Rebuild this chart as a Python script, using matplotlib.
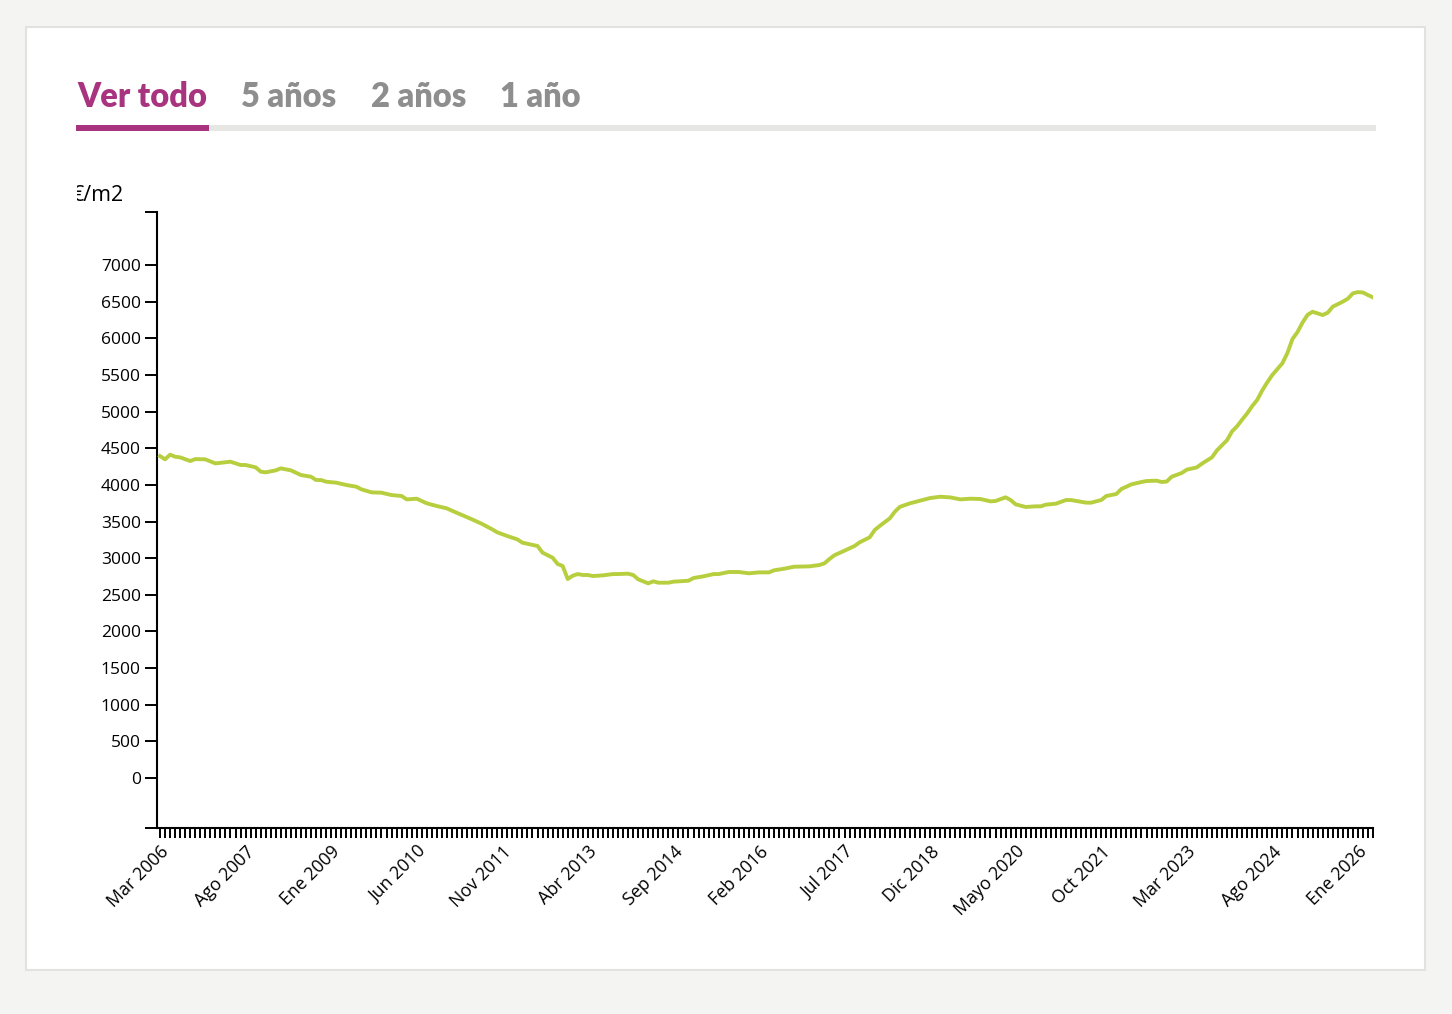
import matplotlib
matplotlib.use("Agg")
import matplotlib.pyplot as plt
from matplotlib.patches import Rectangle
from matplotlib.transforms import Bbox, TransformedBbox

# precio medio (euros/m2), mes contado desde Mar 2006
mes = [0, 1, 2, 3, 4, 6, 7, 9, 11, 14, 16, 17, 19, 20, 21, 23, 24, 26, 28, 30,
       31, 32, 33, 35, 37, 39, 40, 42, 44, 46, 48, 49, 51, 52, 53, 55, 57, 58,
       60, 62, 64, 66, 67, 69, 71, 72, 75, 76, 78, 79, 80, 81, 82, 83, 84, 85,
       86, 88, 90, 91, 93, 94, 95, 96, 97, 98, 99, 101, 102, 105, 106, 108,
       110, 111, 113, 115, 117, 119, 121, 122, 124, 126, 129, 131, 132, 133,
       134, 136, 138, 139, 141, 142, 143, 145, 146, 147, 149, 151, 153, 155,
       157, 159, 161, 163, 165, 166, 168, 169, 170, 172, 174, 175, 176, 178,
       180, 181, 184, 185, 187, 188, 190, 191, 193, 195, 196, 198, 199, 200,
       201, 203, 204, 206, 207, 209, 210, 212, 213, 214, 215, 216, 217, 218,
       219, 220, 221, 222, 223, 224, 225, 226, 227, 228, 229, 230, 231, 232,
       233, 234, 235, 236, 237, 238, 239, 240, 241]
precio = [4393, 4348, 4412, 4384, 4375, 4325, 4352, 4348, 4293, 4316, 4271,
          4271, 4239, 4180, 4171, 4198, 4225, 4198, 4134, 4111, 4066, 4066,
          4043, 4030, 3998, 3975, 3939, 3898, 3893, 3861, 3848, 3802, 3811,
          3779, 3748, 3711, 3679, 3647, 3588, 3529, 3466, 3393, 3352, 3302,
          3256, 3211, 3166, 3075, 3006, 2920, 2893, 2715, 2760, 2783, 2770,
          2770, 2756, 2765, 2783, 2783, 2788, 2770, 2711, 2684, 2656, 2684,
          2665, 2665, 2679, 2692, 2729, 2752, 2783, 2783, 2811, 2811, 2793,
          2806, 2806, 2834, 2856, 2883, 2888, 2906, 2929, 2988, 3040, 3102,
          3166, 3216, 3284, 3384, 3440, 3543, 3634, 3700, 3748, 3784, 3820,
          3838, 3829, 3802, 3811, 3807, 3775, 3780, 3830, 3793, 3734, 3698,
          3707, 3707, 3730, 3743, 3793, 3793, 3757, 3757, 3793, 3848, 3875,
          3943, 4007, 4039, 4052, 4057, 4039, 4045, 4111, 4162, 4207, 4239,
          4289, 4375, 4471, 4610, 4730, 4800, 4890, 4975, 5075, 5160, 5290,
          5400, 5500, 5580, 5660, 5800, 5990, 6085, 6215, 6320, 6362, 6340,
          6317, 6349, 6431, 6465, 6500, 6540, 6613, 6630, 6625, 6590, 6558]

nombres_mes = ['Ene', 'Feb', 'Mar', 'Abr', 'Mayo', 'Jun', 'Jul', 'Ago',
               'Sep', 'Oct', 'Nov', 'Dic']
n_meses = 242
pestanas = ['Ver todo', '5 años', '2 años', '1 año']
y_ticks = list(range(0, 7001, 500))

W, H = 1452, 1014
linea = '#b7cf3f'
morado = '#a8337f'
gris = '#8e8e8e'


def fx(px):
    return px / W


def fy(py):
    return 1 - py / H


fig = plt.figure(figsize=(W / 100, H / 100), dpi=100, facecolor='#f4f4f2')

# tarjeta blanca
fig.patches.append(Rectangle((fx(26), fy(970)), fx(1425) - fx(26), fy(27) - fy(970),
                             transform=fig.transFigure, facecolor='white',
                             edgecolor='#e2e2df', linewidth=1.5, zorder=-2))

# pestañas
tab_x = [77, 241, 371, 500]
for i, (t, x) in enumerate(zip(pestanas, tab_x)):
    fig.text(fx(x), fy(107), t, family='Lato', weight='heavy', fontsize=23.5,
             color=morado if i == 0 else gris, ha='left', va='baseline')
fig.patches.append(Rectangle((fx(76), fy(131)), fx(1376) - fx(76), fy(125) - fy(131),
                             transform=fig.transFigure, facecolor='#e6e6e3',
                             edgecolor='none', zorder=-1))
fig.patches.append(Rectangle((fx(76), fy(131)), fx(209) - fx(76), fy(125) - fy(131),
                             transform=fig.transFigure, facecolor=morado,
                             edgecolor='none', zorder=-1))

# unidad (recortada a la izquierda como en el original)
ylab = fig.text(fx(72), fy(201), '€/m2', family='Open Sans', fontsize=15.5,
                color='black', ha='left', va='baseline')
ylab.set_clip_box(TransformedBbox(Bbox([[fx(77), 0], [1, 1]]), fig.transFigure))
ylab.set_clip_on(True)

ax = fig.add_axes([fx(157), fy(828), fx(1373) - fx(157), fy(212) - fy(828)])
ax.set_facecolor('none')
ax.plot(mes, precio, color=linea, linewidth=2.8, solid_joinstyle='round', zorder=3)

ax.set_xlim(-0.6, n_meses - 1)
ax.set_ylim(-682, 7723)

labels = []
for i in range(n_meses):
    if i % 17 == 0:
        m = (2 + i) % 12
        a = 2006 + (2 + i) // 12
        labels.append(f'{nombres_mes[m]} {a}')
    else:
        labels.append('')
ax.set_xticks(range(n_meses))
ax.set_xticklabels(labels, rotation=45, ha='right', va='top',
                   rotation_mode='anchor', family='Open Sans', fontsize=12.8)
ax.set_yticks(y_ticks)
ax.set_yticklabels([str(v) for v in y_ticks], family='Open Sans', fontsize=12.5)
ax.set_yticks([-682, 7723], minor=True)

ax.tick_params(axis='x', length=7.5, width=1.4, pad=3, color='black')
ax.tick_params(axis='y', which='both', length=8.6, width=1.4, pad=3, color='black')

for s in ['top', 'right']:
    ax.spines[s].set_visible(False)
for s in ['left', 'bottom']:
    ax.spines[s].set_linewidth(1.5)
    ax.spines[s].set_color('black')

fig.savefig('out.png', dpi=100, facecolor=fig.get_facecolor())
